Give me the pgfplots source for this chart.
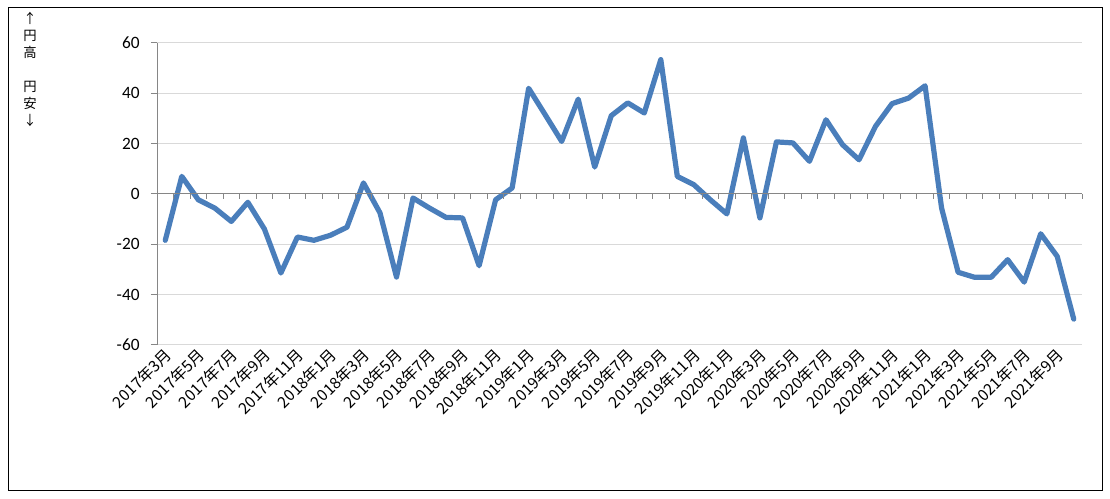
\documentclass[border=0pt]{standalone}
\usepackage{pgfplots}
\pgfplotsset{compat=1.18}
\usepackage{fontspec}
\setmainfont{Carlito}
\newfontfamily\jp{Noto Sans CJK JP}
\definecolor{lineblue}{RGB}{74,126,187}
\definecolor{gridgray}{RGB}{217,217,217}
\definecolor{axgray}{RGB}{134,134,134}
\begin{document}
\begin{tikzpicture}
\useasboundingbox (0,0) rectangle (832.5pt,374.25pt);
\draw[black, line width=0.75pt] (6pt,6pt) rectangle (826.5pt,368.25pt);
\node[font=\jp\fontsize{10}{12.75}\selectfont, align=center, inner sep=0pt] at (22.5pt,322.5pt) {↑\\円\\高\\\mbox{}\\円\\安\\↓};
\begin{axis}[
  at={(117.75pt,115.5pt)}, anchor=south west,
  scale only axis, width=693.75pt, height=226.5pt,
  xmin=-0.5, xmax=55.5, ymin=-60, ymax=60,
  axis y line*=left, axis x line*=bottom,
  x axis line style={draw=none},
  y axis line style={draw=axgray, line width=0.75pt},
  ytick={-60,-40,-20,0,20,40,60},
  yticklabels={-60,-40,-20,0,20,40,60},
  ytick style={draw=axgray, line width=0.75pt},
  tick align=outside, major tick length=4.5pt,
  yticklabel style={font=\fontsize{13}{15}\selectfont, xshift=-5pt},
  ymajorgrids, grid style={draw=gridgray, line width=0.75pt},
  xtick={0,2,...,54},
  xticklabels={2017年3月,2017年5月,2017年7月,2017年9月,2017年11月,2018年1月,2018年3月,2018年5月,2018年7月,2018年9月,2018年11月,2019年1月,2019年3月,2019年5月,2019年7月,2019年9月,2019年11月,2020年1月,2020年3月,2020年5月,2020年7月,2020年9月,2020年11月,2021年1月,2021年3月,2021年5月,2021年7月,2021年9月},
  xtick style={draw=none},
  xticklabel style={font=\jp\fontsize{11.8}{13}\selectfont, rotate=45, anchor=east, inner sep=0.5pt, xshift=2pt, yshift=-2pt},
]
\addplot[lineblue, line width=3.9pt, line join=round, line cap=round] coordinates {
(0,-18.4) (1,7.0) (2,-2.3) (3,-5.6) (4,-10.9) (5,-3.3) (6,-13.9) (7,-31.4)
(8,-17.1) (9,-18.4) (10,-16.4) (11,-13.2) (12,4.4) (13,-7.5) (14,-33.0) (15,-1.6)
(16,-5.6) (17,-9.3) (18,-9.5) (19,-28.5) (20,-2.3) (21,2.4) (22,42.0) (23,31.5)
(24,20.9) (25,37.7) (26,10.7) (27,31.1) (28,36.2) (29,32.2) (30,53.4) (31,7.0)
(32,3.7) (33,-2.3) (34,-7.9) (35,22.3) (36,-9.5) (37,20.7) (38,20.3) (39,13.0)
(40,29.5) (41,19.6) (42,13.6) (43,26.9) (44,35.9) (45,38.1) (46,43.0) (47,-5.6)
(48,-31.1) (49,-33.1) (50,-33.1) (51,-26.1) (52,-35.0) (53,-15.8) (54,-24.8) (55,-49.7)
};
\end{axis}
\begin{axis}[
  at={(117.75pt,115.5pt)}, anchor=south west,
  scale only axis, width=693.75pt, height=226.5pt,
  xmin=-0.5, xmax=55.5, ymin=-60, ymax=60,
  axis x line=middle, axis y line=none,
  x axis line style={-, draw=axgray, line width=0.75pt},
  xtick={-0.5,0.5,...,55.5}, xticklabels={},
  xtick style={draw=axgray, line width=0.75pt},
  tick align=outside, major tick length=3.75pt,
]
\end{axis}
\end{tikzpicture}
\end{document}
